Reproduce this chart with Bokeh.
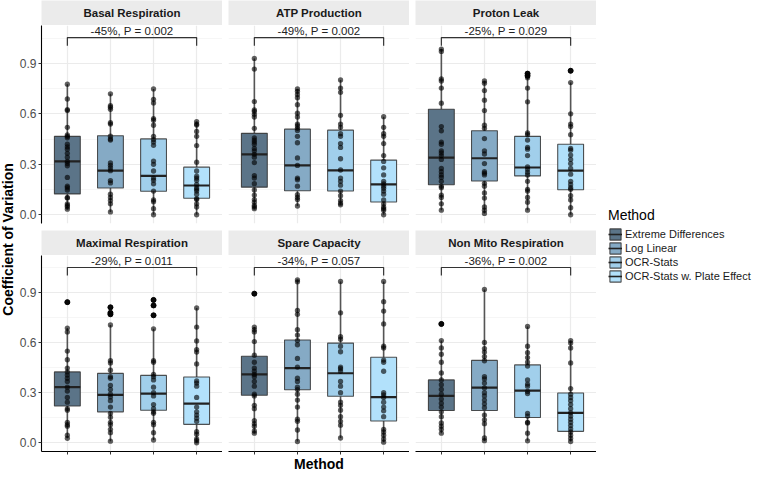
from math import pi
from bokeh.plotting import figure
from bokeh.models import (ColumnDataSource, Range1d, FixedTicker, Label, Legend, LegendItem,
                          LinearAxis, Grid, PrintfTickFormatter)
from bokeh.layouts import row, column
from bokeh.core.properties import value
from bokeh.embed import file_html
from bokeh.resources import INLINE

FONT = "Liberation Sans"
NAN = float("nan")

# ---------------- data ----------------
panels = ["Basal Respiration", "ATP Production", "Proton Leak",
          "Maximal Respiration", "Spare Capacity", "Non Mito Respiration"]
methods = ["Extreme Differences", "Log Linear", "OCR-Stats", "OCR-Stats w. Plate Effect"]
colors = ["#5b7488", "#85aac5", "#a1cfeb", "#b2e1fb"]

annotations = ["-45%, P = 0.002", "-49%, P = 0.002", "-25%, P = 0.029",
               "-29%, P = 0.011", "-34%, P = 0.057", "-36%, P = 0.002"]
compare_from, compare_to = 1, 4
bracket_low, bracket_high, label_y = 1.005, 1.053, 1.093

y_ticks = [0.0, 0.3, 0.6, 0.9]
y_minor = [-0.15, 0.15, 0.45, 0.75, 1.05]

q1 = [[0.124, 0.159, 0.140, 0.098], [0.164, 0.143, 0.141, 0.076], [0.178, 0.201, 0.231, 0.149],
      [0.221, 0.186, 0.196, 0.111], [0.286, 0.319, 0.280, 0.131], [0.194, 0.194, 0.152, 0.069]]
med = [[0.317, 0.262, 0.231, 0.174], [0.359, 0.293, 0.264, 0.180], [0.340, 0.336, 0.281, 0.262],
       [0.334, 0.288, 0.296, 0.236], [0.411, 0.449, 0.418, 0.274], [0.282, 0.332, 0.313, 0.180]]
q3 = [[0.466, 0.470, 0.451, 0.283], [0.484, 0.509, 0.503, 0.325], [0.627, 0.499, 0.466, 0.419],
      [0.426, 0.417, 0.405, 0.395], [0.520, 0.618, 0.599, 0.514], [0.378, 0.495, 0.468, 0.299]]
whisk_lo = [[0.033, 0.017, 0.0, 0.0], [0.036, 0.052, 0.059, 0.0], [0.027, 0.008, 0.027, 0.0],
            [0.027, 0.010, 0.017, 0.0], [0.058, 0.008, 0.029, 0.004], [0.058, 0.013, 0.012, 0.008]]
whisk_hi = [[0.776, 0.719, 0.748, 0.554], [0.929, 0.748, 0.801, 0.583], [0.985, 0.795, 0.814, 0.786],
            [0.689, 0.708, 0.685, 0.810], [0.695, 0.979, 0.969, 0.969], [0.614, 0.921, 0.699, 0.614]]

pts_basal = [
    [0.776, 0.688, 0.625, 0.619, 0.52, 0.474, 0.466, 0.457, 0.419, 0.403, 0.39, 0.365, 0.342, 0.317,
     0.304, 0.291, 0.222, 0.17, 0.161, 0.147, 0.103, 0.099, 0.065, 0.055, 0.046, 0.033],
    [0.719, 0.648, 0.639, 0.627, 0.547, 0.539, 0.467, 0.451, 0.444, 0.308, 0.294, 0.279, 0.262, 0.203,
     0.189, 0.122, 0.103, 0.084, 0.065, 0.017],
    [0.748, 0.686, 0.665, 0.572, 0.562, 0.532, 0.466, 0.447, 0.432, 0.413, 0.319, 0.3, 0.26, 0.218,
     0.205, 0.184, 0.141, 0.088, 0.078, 0.036, 0.0],
    [0.554, 0.539, 0.533, 0.495, 0.466, 0.411, 0.312, 0.26, 0.229, 0.218, 0.205, 0.18, 0.161, 0.151,
     0.141, 0.122, 0.096, 0.09, 0.065, 0.046, 0.0],
]
pts_atp = [
    [0.929, 0.866, 0.673, 0.623, 0.614, 0.597, 0.581, 0.514, 0.457, 0.444, 0.432, 0.419, 0.394, 0.38,
     0.359, 0.342, 0.31, 0.233, 0.218, 0.185, 0.147, 0.117, 0.09, 0.075, 0.055, 0.046, 0.036],
    [0.748, 0.734, 0.715, 0.696, 0.654, 0.604, 0.581, 0.539, 0.528, 0.514, 0.501, 0.466, 0.428, 0.338,
     0.293, 0.218, 0.208, 0.17, 0.119, 0.103, 0.09, 0.052],
    [0.801, 0.753, 0.728, 0.591, 0.539, 0.52, 0.482, 0.466, 0.423, 0.4, 0.333, 0.266, 0.218, 0.199,
     0.176, 0.141, 0.113, 0.084, 0.069, 0.059],
    [0.583, 0.52, 0.482, 0.466, 0.423, 0.352, 0.317, 0.279, 0.237, 0.199, 0.184, 0.17, 0.157, 0.141,
     0.122, 0.088, 0.065, 0.046, 0.036, 0.027, 0.0],
]
pts_proton = [
    [0.985, 0.971, 0.807, 0.795, 0.753, 0.663, 0.524, 0.499, 0.432, 0.419, 0.38, 0.367, 0.352, 0.329,
     0.275, 0.256, 0.237, 0.222, 0.199, 0.17, 0.161, 0.117, 0.103, 0.065, 0.027],
    [0.795, 0.782, 0.738, 0.681, 0.619, 0.532, 0.514, 0.453, 0.38, 0.361, 0.304, 0.256, 0.247, 0.237,
     0.187, 0.17, 0.13, 0.099, 0.046, 0.027, 0.008],
    [0.839, 0.826, 0.814, 0.753, 0.671, 0.486, 0.476, 0.444, 0.4, 0.39, 0.352, 0.285, 0.27, 0.252,
     0.237, 0.199, 0.151, 0.141, 0.103, 0.075, 0.027],
    [0.856, 0.786, 0.6, 0.539, 0.524, 0.476, 0.394, 0.384, 0.355, 0.329, 0.304, 0.275, 0.241, 0.199,
     0.18, 0.161, 0.151, 0.113, 0.088, 0.042, 0.0],
]
pts_maximal = [
    [0.845, 0.689, 0.666, 0.551, 0.499, 0.449, 0.426, 0.407, 0.388, 0.369, 0.334, 0.311, 0.273, 0.244,
     0.205, 0.196, 0.123, 0.109, 0.1, 0.046, 0.027],
    [0.814, 0.781, 0.772, 0.708, 0.493, 0.48, 0.436, 0.397, 0.388, 0.345, 0.32, 0.292, 0.276, 0.253,
     0.215, 0.177, 0.154, 0.123, 0.109, 0.081, 0.061, 0.01],
    [0.858, 0.825, 0.766, 0.685, 0.493, 0.484, 0.411, 0.397, 0.378, 0.334, 0.301, 0.282, 0.23, 0.205,
     0.186, 0.177, 0.123, 0.109, 0.061, 0.017],
    [0.81, 0.695, 0.612, 0.56, 0.545, 0.474, 0.372, 0.359, 0.34, 0.273, 0.215, 0.186, 0.167, 0.148,
     0.129, 0.067, 0.052, 0.023, 0.013, 0.0],
]
pts_spare = [
    [0.896, 0.695, 0.679, 0.666, 0.608, 0.526, 0.484, 0.449, 0.43, 0.411, 0.397, 0.369, 0.34, 0.292,
     0.282, 0.225, 0.205, 0.134, 0.115, 0.1, 0.071, 0.058],
    [0.979, 0.967, 0.795, 0.772, 0.679, 0.647, 0.614, 0.589, 0.507, 0.455, 0.388, 0.369, 0.334, 0.32,
     0.292, 0.257, 0.215, 0.142, 0.129, 0.077, 0.008],
    [0.969, 0.781, 0.637, 0.622, 0.58, 0.547, 0.455, 0.445, 0.43, 0.369, 0.34, 0.301, 0.244, 0.225,
     0.196, 0.157, 0.129, 0.106, 0.029],
    [0.969, 0.848, 0.791, 0.714, 0.58, 0.57, 0.497, 0.484, 0.43, 0.301, 0.288, 0.273, 0.244, 0.215,
     0.192, 0.157, 0.081, 0.065, 0.046, 0.023, 0.004],
]
pts_nonmito = [
    [0.714, 0.614, 0.57, 0.532, 0.484, 0.42, 0.378, 0.349, 0.321, 0.292, 0.263, 0.238, 0.215, 0.186,
     0.157, 0.119, 0.1, 0.081, 0.058],
    [0.921, 0.603, 0.566, 0.545, 0.518, 0.493, 0.397, 0.384, 0.359, 0.33, 0.301, 0.282, 0.257, 0.234,
     0.211, 0.167, 0.138, 0.115, 0.029, 0.013],
    [0.699, 0.58, 0.541, 0.512, 0.484, 0.461, 0.378, 0.353, 0.34, 0.309, 0.296, 0.177, 0.161, 0.123,
     0.119, 0.058, 0.012],
    [0.614, 0.599, 0.57, 0.48, 0.326, 0.292, 0.273, 0.253, 0.23, 0.205, 0.18, 0.161, 0.142, 0.123,
     0.104, 0.084, 0.065, 0.046, 0.027, 0.008],
]
points = [pts_basal, pts_atp, pts_proton, pts_maximal, pts_spare, pts_nonmito]

# ---------------- layout constants ----------------
FW, FH, SH = 181, 198, 25
GAP_ROW = 7
BOTTOM = 21
LEFT0, LEFTN = 27, 6
YLAB_W = 14
TOTAL_H = SH + FH + GAP_ROW + SH + FH + BOTTOM
LEG_W = 754 - (YLAB_W + LEFT0 + FW + 2 * (LEFTN + FW))
BOX_W = 0.6
xs = [1, 2, 3, 4]


def base_fig(width, height, **kw):
    return figure(width=width, height=height, output_backend="svg", toolbar_location=None,
                  x_axis_type=None, y_axis_type=None, outline_line_color=None,
                  min_border_top=0, min_border_right=0, **kw)


def strip(i):
    left = LEFT0 if i % 3 == 0 else LEFTN
    s = base_fig(left + FW, SH, x_range=Range1d(0, 1), y_range=Range1d(0, 1),
                 min_border_left=left, min_border_bottom=0,
                 background_fill_color="#ebebeb", border_fill_color="white")
    s.add_layout(Label(x=0.5, y=0.5, text=panels[i], text_align="center", text_baseline="middle",
                       text_font=FONT, text_font_style="bold", text_font_size="11.5px",
                       text_color="#1a1a1a"))
    return s


def panel(i):
    col, r = i % 3, i // 3
    left = LEFT0 if col == 0 else LEFTN
    bottom = GAP_ROW if r == 0 else BOTTOM
    p = base_fig(left + FW, FH + bottom, x_range=Range1d(0.4, 4.6), y_range=Range1d(-0.052, 1.125),
                 min_border_left=left, min_border_bottom=bottom, background_fill_color="white")
    p.add_layout(Grid(dimension=1, ticker=FixedTicker(ticks=y_ticks, minor_ticks=y_minor),
                      grid_line_color="#ebebeb", grid_line_width=1.2,
                      minor_grid_line_color="#f4f4f4", minor_grid_line_width=0.8), "center")
    p.add_layout(Grid(dimension=0, ticker=FixedTicker(ticks=xs),
                      grid_line_color="#ebebeb", grid_line_width=1.2), "center")
    if col == 0:
        ya = LinearAxis(ticker=FixedTicker(ticks=y_ticks), formatter=PrintfTickFormatter(format="%.1f"),
                        axis_line_color="black", axis_line_width=1.1,
                        major_tick_line_color="#333333", major_tick_out=3, major_tick_in=0,
                        minor_tick_line_color=None, major_label_standoff=2,
                        major_label_text_font=FONT, major_label_text_font_size="12px",
                        major_label_text_color="#4d4d4d")
        p.add_layout(ya, "left")
    if r == 1:
        xa = LinearAxis(ticker=FixedTicker(ticks=xs), major_label_overrides={k: "" for k in xs},
                        major_label_text_font_size="0px", major_label_standoff=0,
                        axis_line_color="black", axis_line_width=1.1,
                        major_tick_line_color="#333333", major_tick_out=3, major_tick_in=0,
                        minor_tick_line_color=None,
                        axis_label="Method" if col == 1 else None,
                        axis_label_standoff=1, axis_label_text_font=FONT,
                        axis_label_text_font_style="bold", axis_label_text_font_size="14px",
                        axis_label_text_color="black")
        p.add_layout(xa, "below")

    src = ColumnDataSource(dict(x=xs, q1=q1[i], med=med[i], q3=q3[i], lo=whisk_lo[i], hi=whisk_hi[i],
                                xl=[x - BOX_W / 2 for x in xs], xr=[x + BOX_W / 2 for x in xs],
                                color=colors))
    p.segment(x0="x", y0="q3", x1="x", y1="hi", source=src, line_color="#555555", line_width=1.6)
    p.segment(x0="x", y0="q1", x1="x", y1="lo", source=src, line_color="#555555", line_width=1.6)
    p.vbar(x="x", width=BOX_W, bottom="q1", top="q3", source=src, fill_color="color",
           line_color="#333333", line_alpha=0.85, line_width=1.1)
    p.segment(x0="xl", y0="med", x1="xr", y1="med", source=src, line_color="#222222", line_width=2.2)

    px, py, ox, oy = [], [], [], []
    for j, vals in enumerate(points[i]):
        for v in vals:
            px.append(xs[j]); py.append(v)
            if v > whisk_hi[i][j] + 1e-9 or v < whisk_lo[i][j] - 1e-9:
                ox.append(xs[j]); oy.append(v)
    p.scatter(x=ox, y=oy, size=5, color="black", alpha=0.9)
    p.scatter(x=px, y=py, size=5.3, color="black", alpha=0.62, line_color=None)

    bx = [compare_from, compare_from, compare_to, compare_to]
    by = [bracket_low, bracket_high, bracket_high, bracket_low]
    p.line(x=bx, y=by, line_color="#333333", line_width=1.2)
    p.text(x=[(compare_from + compare_to) / 2], y=[label_y], text=[annotations[i]],
           text_align="center", text_baseline="middle", text_font=value(FONT),
           text_font_size="11.5px", text_color="#222222")
    return p


strips = [strip(i) for i in range(6)]
figs = [panel(i) for i in range(6)]

grid = column(row(*strips[:3]), row(*figs[:3]), row(*strips[3:]), row(*figs[3:]))

# vertical centre of the panel area (from first frame top to last frame bottom)
ylab_center_from_top = SH + (FH + GAP_ROW + SH + FH) / 2
ylab = base_fig(YLAB_W, TOTAL_H, x_range=Range1d(0, 1), y_range=Range1d(0, 1),
                min_border_left=0, min_border_bottom=0)
ylab.add_layout(Label(x=0.5, y=(TOTAL_H - ylab_center_from_top) / TOTAL_H,
                      text="Coefficient of Variation", angle=pi / 2,
                      text_align="center", text_baseline="middle", text_font=FONT,
                      text_font_style="bold", text_font_size="14px", text_color="black"))

leg_fig = base_fig(LEG_W, TOTAL_H, x_range=Range1d(0, 1), y_range=Range1d(0, 1),
                   min_border_left=0, min_border_bottom=0)
items = []
for m, c in zip(methods, colors):
    dummy = ColumnDataSource(dict(x=[NAN], b=[NAN], t=[NAN], x0=[NAN], x1=[NAN], y=[NAN]))
    rb = leg_fig.vbar(x="x", bottom="b", top="t", width=0.5, source=dummy, fill_color=c,
                      line_color="#333333", line_alpha=0.85, line_width=1.1)
    rm = leg_fig.segment(x0="x0", y0="y", x1="x1", y1="y", source=dummy,
                         line_color="#222222", line_width=1.6)
    items.append(LegendItem(label=m, renderers=[rb, rm]))
legend_height = 88
legend = Legend(items=items, title="Method",
                location=(12, TOTAL_H - ylab_center_from_top - legend_height / 2),
                title_text_font=FONT, title_text_font_size="14px", title_text_font_style="normal",
                title_text_color="black", title_standoff=4,
                label_text_font=FONT, label_text_font_size="11px", label_text_color="#1a1a1a",
                glyph_width=14, glyph_height=14, label_height=14, label_standoff=3,
                spacing=0, padding=0, margin=0, border_line_color=None,
                background_fill_alpha=0)
leg_fig.add_layout(legend)

layout = row(ylab, grid, leg_fig)
open("out.html", "w").write(file_html(layout, INLINE))
